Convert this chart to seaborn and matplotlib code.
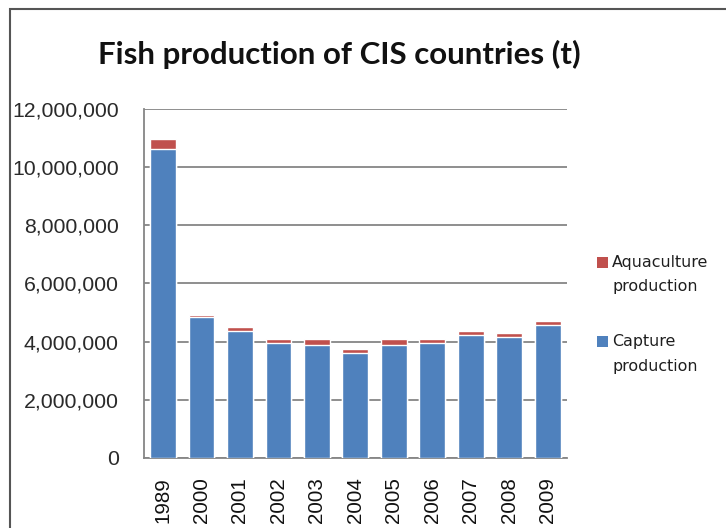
import seaborn as sns
import matplotlib.pyplot as plt
import matplotlib.patches as mpatches
import matplotlib.ticker as mticker
import pandas as pd

# Values (tonnes)
years = ['1989', '2000', '2001', '2002', '2003', '2004',
         '2005', '2006', '2007', '2008', '2009']
capture = [10640000, 4850000, 4370000, 3960000, 3880000, 3620000,
           3880000, 3960000, 4230000, 4170000, 4570000]
aquaculture = [340000, 70000, 140000, 140000, 220000, 140000,
               220000, 140000, 140000, 140000, 140000]

df = pd.DataFrame({'Year': years, 'Capture': capture, 'Aquaculture': aquaculture})
df['Total'] = df['Capture'] + df['Aquaculture']

blue = '#4F81BD'
red = '#C0504D'
grid_grey = '#868686'

sns.set_style("white")

fig = plt.figure(figsize=(7.26, 5.28), dpi=100)
ax = fig.add_axes([0.198, 0.1326, 0.583, 0.661])

# stacked bars: total (red) behind, capture (blue) in front
sns.barplot(data=df, x='Year', y='Total', color=red, width=0.67,
            saturation=1, ax=ax, zorder=3)
sns.barplot(data=df, x='Year', y='Capture', color=blue, width=0.67,
            saturation=1, ax=ax, zorder=3)

ax.set_ylim(0, 12000000)
ax.set_xlim(-0.5, len(years) - 0.5)
ax.yaxis.set_major_locator(mticker.MultipleLocator(2000000))
ax.yaxis.set_major_formatter(mticker.FuncFormatter(lambda v, p: f'{int(v):,}'))
ax.set_xlabel('')
ax.set_ylabel('')

ax.grid(True, axis='y', color=grid_grey, linewidth=1.3, zorder=0)
ax.set_axisbelow(True)
for s in ['top', 'right']:
    ax.spines[s].set_visible(False)
for s in ['left', 'bottom']:
    ax.spines[s].set_color(grid_grey)
    ax.spines[s].set_linewidth(1.3)

ax.tick_params(axis='y', length=4, width=1.2, color=grid_grey, pad=14,
               labelsize=15.3, labelcolor='#2a2a2a')
ax.tick_params(axis='x', length=0, pad=14, labelsize=14.8, labelcolor='#111111',
               labelrotation=90)
for lbl in ax.get_yticklabels() + ax.get_xticklabels():
    lbl.set_fontfamily('Liberation Sans')

fig.suptitle('Fish production of CIS countries (t)', x=0.467, y=0.925,
             fontsize=22.5, fontweight='bold', fontfamily='Lato', color='#111111')

# legend (Excel style: square aligned with the first line of a wrapped label)
W, H = 726, 528
legend_items = [('Aquaculture\nproduction', red, 257),
                ('Capture\nproduction', blue, 336)]
for label, col, top in legend_items:
    fig.patches.append(mpatches.Rectangle((597 / W, 1 - (top + 11) / H), 11 / W, 11 / H,
                                          transform=fig.transFigure,
                                          facecolor=col, edgecolor='none'))
    for i, line in enumerate(label.split('\n')):
        fig.text(612 / W, 1 - (top + 5.5 + i * 24.5) / H, line,
                 ha='left', va='center', fontsize=11.4,
                 fontfamily='DejaVu Sans', color='#1e1e1e')

# chart area border
fig.patches.append(mpatches.Rectangle((10 / W, -0.1), 1.2, 1 - 9 / H + 0.1,
                                      transform=fig.transFigure, fill=False,
                                      edgecolor='#555555', linewidth=1.5))

plt.savefig('out.png', dpi=100)
